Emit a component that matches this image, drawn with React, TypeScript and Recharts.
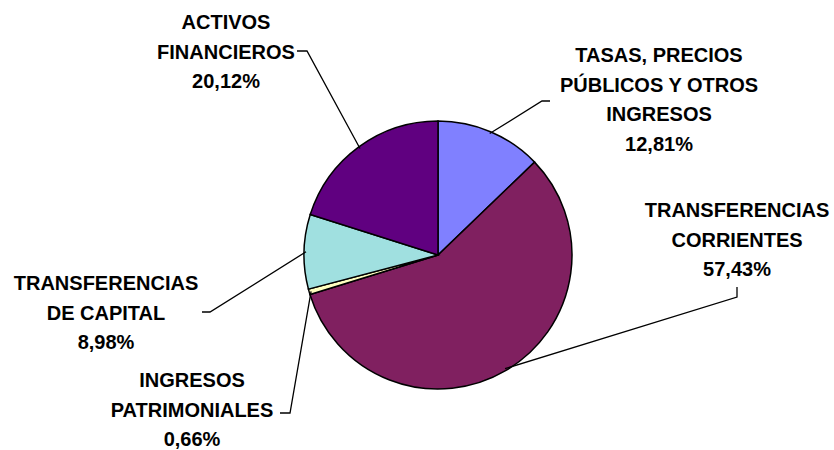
import React from 'react';
import { PieChart, Pie, Cell } from 'recharts';

const categories = [
  'TASAS, PRECIOS|PÚBLICOS Y OTROS|INGRESOS',
  'TRANSFERENCIAS|CORRIENTES',
  'INGRESOS|PATRIMONIALES',
  'TRANSFERENCIAS|DE CAPITAL',
  'ACTIVOS|FINANCIEROS',
];
const shares = [12.81, 57.43, 0.66, 8.98, 20.12];
const colors = ['#8080FF', '#802060', '#FFFFC0', '#A0E0E0', '#600080'];

const data = categories.map((name, i) => ({ name, value: shares[i] }));

// label layout: text centre x, first line centre y, elbow point, tick end
const labelLayout = [
  { tx: 659, ty: 55, elbow: [542, 101], end: [550, 101] },
  { tx: 737, ty: 210, elbow: [737, 297], end: [737, 287] },
  { tx: 192, ty: 380, elbow: [290, 413], end: [280, 413] },
  { tx: 106, ty: 283, elbow: [210, 312], end: [202, 312] },
  { tx: 226, ty: 22, elbow: [307, 51], end: [297, 51] },
];

const RAD = Math.PI / 180;
const LINE_H = 29.5;

const renderLabel = (props: any) => {
  const { cx, cy, midAngle, outerRadius, index } = props;
  const lay = labelLayout[index];
  const r = outerRadius - 2;
  const sx = cx + r * Math.cos(-midAngle * RAD);
  const sy = cy + r * Math.sin(-midAngle * RAD);
  const lines = categories[index].split('|');
  lines.push(shares[index].toFixed(2).replace('.', ',') + '%');
  return (
    <g key={`lbl-${index}`}>
      <polyline
        points={`${sx},${sy} ${lay.elbow[0]},${lay.elbow[1]} ${lay.end[0]},${lay.end[1]}`}
        fill="none"
        stroke="#000"
        strokeWidth={1.3}
      />
      {lines.map((t, j) => (
        <text
          key={j}
          x={lay.tx}
          y={lay.ty + j * LINE_H}
          textAnchor="middle"
          dominantBaseline="central"
          fontFamily="'Liberation Sans', Arial, sans-serif"
          fontWeight="bold"
          fontSize={20}
          fill="#000"
        >
          {t}
        </text>
      ))}
    </g>
  );
};

export default function App() {
  return (
    <div style={{ position: 'absolute', left: 0, top: 0, width: 834, height: 450, background: '#fff' }}>
      <PieChart width={834} height={450} margin={{ top: 0, right: 0, bottom: 0, left: 0 }}>
        <Pie
          data={data}
          dataKey="value"
          nameKey="name"
          cx={438}
          cy={255}
          outerRadius={134}
          startAngle={90}
          endAngle={-270}
          stroke="#000"
          strokeWidth={1.5}
          label={renderLabel}
          labelLine={false}
          isAnimationActive={false}
        >
          {data.map((d, i) => (
            <Cell key={d.name} fill={colors[i]} />
          ))}
        </Pie>
      </PieChart>
    </div>
  );
}
